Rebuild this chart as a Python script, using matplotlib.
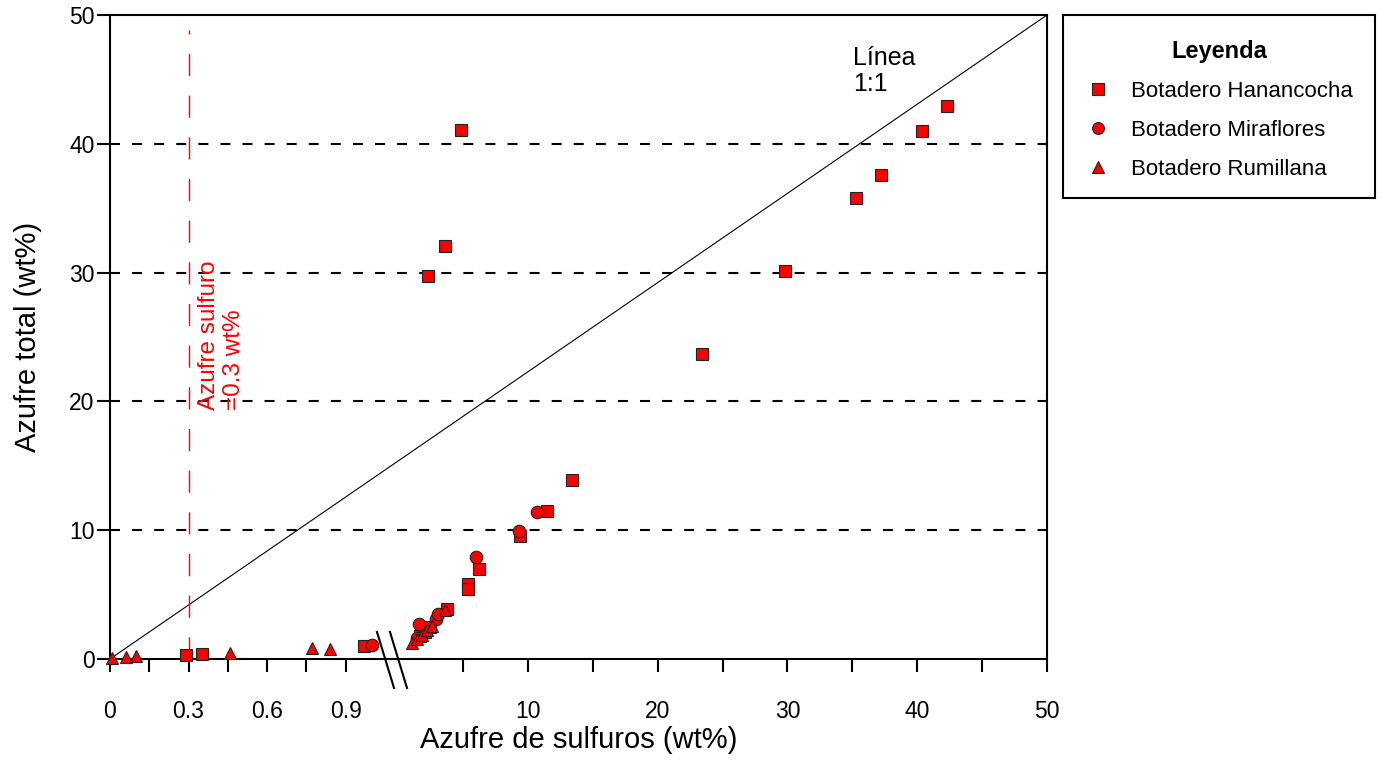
import matplotlib
matplotlib.use("Agg")
import matplotlib.pyplot as plt
from matplotlib.lines import Line2D

plt.rcParams['font.family'] = ['Liberation Sans', 'DejaVu Sans']

# Data: low range (0 - 1.1 wt%) and high range (0 - 50 wt%) of sulphide sulphur
han_lo_x = [0.29, 0.35, 0.97]
han_lo_y = [0.31, 0.40, 1.02]
han_hi_x = [1.7, 2.1, 2.5, 3.8, 5.4, 5.4, 6.25, 9.4, 11.5, 13.4, 2.31, 3.62, 4.86,
            23.4, 29.8, 35.3, 37.2, 40.4, 42.3]
han_hi_y = [1.75, 2.1, 2.45, 3.9, 5.8, 5.4, 7.0, 9.55, 11.5, 13.9, 29.7, 32.1, 41.1,
            23.7, 30.1, 35.8, 37.6, 41.0, 42.9]

mir_lo_x = [1.0]
mir_lo_y = [1.09]
mir_hi_x = [1.5, 1.64, 2.9, 3.11, 6.0, 9.33, 10.7]
mir_hi_y = [1.6, 2.72, 3.1, 3.49, 7.94, 9.95, 11.4]

rum_lo_x = [0.008, 0.061, 0.10, 0.46, 0.77, 0.84]
rum_lo_y = [0.05, 0.13, 0.23, 0.49, 0.83, 0.80]
rum_hi_x = [1.06, 1.45, 1.85, 2.25, 2.65, 3.6]
rum_hi_y = [1.22, 1.55, 1.9, 2.25, 2.6, 3.8]

lo_ticks = [0, 0.15, 0.3, 0.45, 0.6, 0.75, 0.9]
lo_labels = ['0', '', '0.3', '', '0.6', '', '0.9']
hi_ticks = [5, 10, 15, 20, 25, 30, 35, 40, 45, 50]
hi_labels = ['', '10', '', '20', '', '30', '', '40', '', '50']
y_ticks = [0, 10, 20, 30, 40, 50]

series = [
    ('Botadero Hanancocha', 's', han_lo_x, han_lo_y, han_hi_x, han_hi_y),
    ('Botadero Miraflores', 'o', mir_lo_x, mir_lo_y, mir_hi_x, mir_hi_y),
    ('Botadero Rumillana', '^', rum_lo_x, rum_lo_y, rum_hi_x, rum_hi_y),
]

W, H = 1380, 760
fig = plt.figure(figsize=(W / 100, H / 100), dpi=100)

def rect(x0, y0, x1, y1):
    return [x0 / W, 1 - y1 / H, (x1 - x0) / W, (y1 - y0) / H]

x_left, x_break, x_right, y_top, y_bot = 110, 398, 1047, 15, 659

# main frame: y axis, grid, 1:1 line
ax = fig.add_axes(rect(x_left, y_top, x_right, y_bot))
ax.set_ylim(0, 50)
ax.set_xlim(0, 1)
ax.set_xticks([])
ax.set_yticks(y_ticks)
ax.tick_params(axis='y', direction='out', length=9.5, width=1.5, labelsize=16.5, pad=1.5)
for s in ax.spines.values():
    s.set_linewidth(1.5)
for yv in y_ticks[1:-1]:
    ax.axhline(yv, color='black', lw=1.5, dashes=(4.8, 5.8), zorder=1)
ax.plot([0, 1], [0, 1], transform=ax.transAxes, color='black', lw=0.8, zorder=2)
ax.text(0.793, 0.952, 'Línea\n1:1', transform=ax.transAxes, fontsize=18,
        ha='left', va='top', linespacing=1.1)
ax.set_ylabel('Azufre total (wt%)', fontsize=21)
ax.yaxis.set_label_coords(-0.073, 0.5)
ax.set_xlabel('Azufre de sulfuros (wt%)', fontsize=21)
ax.xaxis.set_label_coords(0.5, -0.104)

# broken x axis: two overlaid axes sharing the y range
axL = fig.add_axes(rect(x_left, y_top, x_break, y_bot), sharey=ax)
axR = fig.add_axes(rect(x_break, y_top, x_right, y_bot), sharey=ax)
axL.set_xlim(0, 1.1)
axR.set_xlim(0, 50)
for a, t, l in [(axL, lo_ticks, lo_labels), (axR, hi_ticks, hi_labels)]:
    a.patch.set_visible(False)
    for s in a.spines.values():
        s.set_visible(False)
    a.set_xticks(t)
    a.set_xticklabels(l)
    a.tick_params(axis='x', direction='out', length=9.5, width=1.5, labelsize=16.5, pad=20)
    a.tick_params(axis='y', left=False, labelleft=False)

axL.axvline(0.3, ymax=0.977, color='red', lw=1, dashes=(16, 14), zorder=1)
axL.text(0.425, 19.3, 'Azufre sulfuro\n=0.3 wt%', rotation=90, color='red',
         fontsize=17.5, ha='center', va='bottom', multialignment='left', linespacing=1.2)

for name, m, lx, ly, hx, hy in series:
    kw = dict(ls='none', marker=m, ms=9, mfc='red', mec='#222222', mew=0.8, zorder=5,
              clip_on=False)
    axL.plot(lx, ly, **kw)
    axR.plot(hx, hy, **kw)

# break marks
for dx in (0, 13):
    axL.plot([(377 + dx - x_left) / (x_break - x_left), (394 + dx - x_left) / (x_break - x_left)],
             [(y_bot - 632) / (y_bot - y_top), (y_bot - 688) / (y_bot - y_top)],
             transform=axL.transAxes, color='black', lw=1.5, clip_on=False)

# legend box
axLeg = fig.add_axes(rect(1063, 15, 1375, 198))
axLeg.set_xticks([])
axLeg.set_yticks([])
for s in axLeg.spines.values():
    s.set_linewidth(1.5)
handles = [Line2D([], [], ls='none', marker=m, ms=8.5, mfc='red', mec='#222222', mew=0.8,
                  label=name) for name, m, *_ in series]
leg = axLeg.legend(handles=handles, loc='center', frameon=False, fontsize=16,
                   title='Leyenda', title_fontproperties={'weight': 'bold', 'size': 17},
                   handletextpad=0.9, labelspacing=0.8, handlelength=1.2,
                   bbox_to_anchor=(0.5, 0.48))

fig.savefig('out.png', dpi=100)
